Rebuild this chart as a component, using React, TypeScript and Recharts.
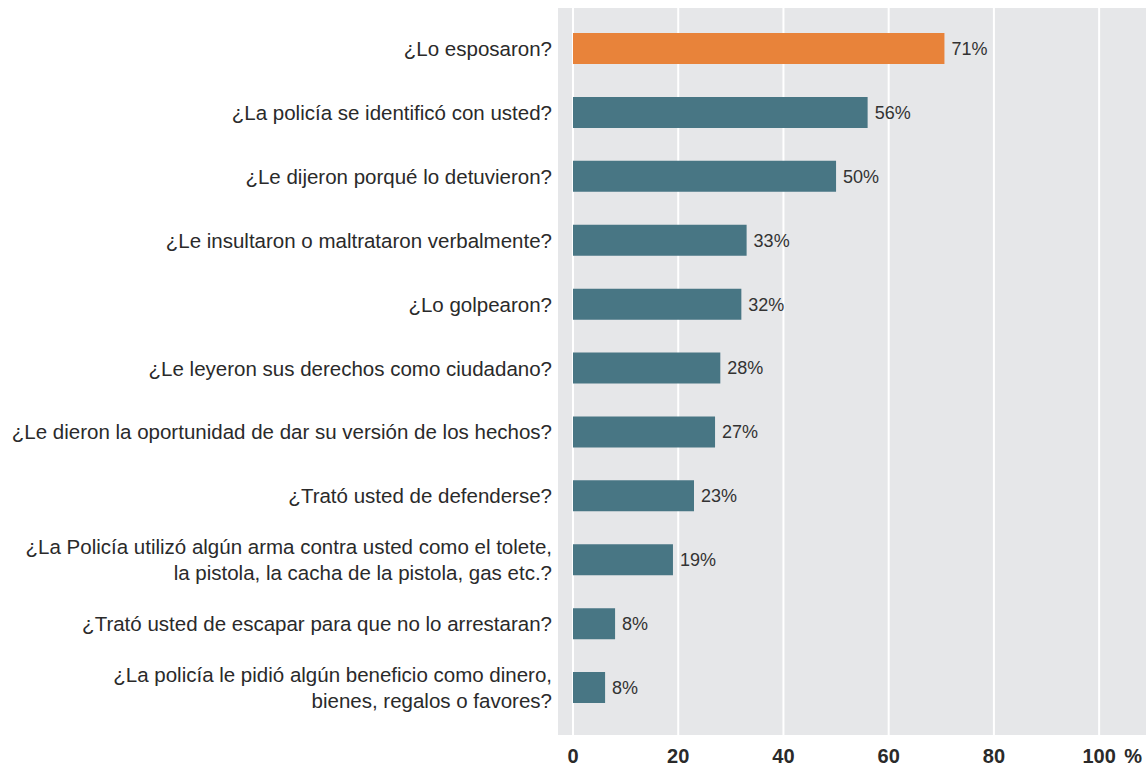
import { BarChart, Bar, XAxis, YAxis, CartesianGrid, Cell, LabelList } from 'recharts'

const questions = [
  '¿Lo esposaron?',
  '¿La policía se identificó con usted?',
  '¿Le dijeron porqué lo detuvieron?',
  '¿Le insultaron o maltrataron verbalmente?',
  '¿Lo golpearon?',
  '¿Le leyeron sus derechos como ciudadano?',
  '¿Le dieron la oportunidad de dar su versión de los hechos?',
  '¿Trató usted de defenderse?',
  '¿La Policía utilizó algún arma contra usted como el tolete,\nla pistola, la cacha de la pistola, gas etc.?',
  '¿Trató usted de escapar para que no lo arrestaran?',
  '¿La policía le pidió algún beneficio como dinero,\nbienes, regalos o favores?',
]

// bar lengths as drawn (%)
const values = [70.6, 56, 50, 33, 32, 28, 27, 23, 19, 8, 6.1]
// printed labels
const valueLabels = ['71%', '56%', '50%', '33%', '32%', '28%', '27%', '23%', '19%', '8%', '8%']

const xTicks = [0, 20, 40, 60, 80, 100]

const data = questions.map((q, i) => ({ name: q, value: values[i], label: valueLabels[i] }))

const ORANGE = '#E8833A'
const TEAL = '#487684'
const FONT = '"Liberation Sans", Arial, sans-serif'

const QuestionTick = ({ x, y, payload }: any) => {
  const lines = String(payload.value).split('\n')
  const lh = 26
  const start = -((lines.length - 1) * lh) / 2
  return (
    <text x={x} y={y} textAnchor="end" fill="#2a2a2a" fontSize={20.5} fontFamily={FONT}>
      {lines.map((l, i) => (
        <tspan key={i} x={x} dy={i === 0 ? start + 7 : lh}>{l}</tspan>
      ))}
    </text>
  )
}

const PctTick = ({ x, y, payload }: any) => (
  <g>
    <text x={x} y={y} dy="0.71em" textAnchor="middle" fill="#2a2a2a" fontSize={20} fontWeight="bold" fontFamily={FONT}>
      {payload.value}
    </text>
    {payload.value === 100 && (
      <text x={x + 34} y={y} dy="0.71em" textAnchor="middle" fill="#2a2a2a" fontSize={20} fontWeight="bold" fontFamily={FONT}>
        %
      </text>
    )}
  </g>
)

export default function App() {
  return (
    <div style={{ position: 'absolute', left: 0, top: 0, background: '#fff' }}>
      <BarChart
        width={1147}
        height={769}
        data={data}
        layout="vertical"
        margin={{ top: 8, right: 0, left: 0, bottom: 0 }}
        barCategoryGap={0}
      >
        <CartesianGrid horizontal={false} stroke="#ffffff" strokeWidth={2} fill="#E6E7E9" />
        <XAxis
          type="number"
          domain={[-3.04, 109.1]}
          allowDataOverflow
          ticks={xTicks}
          height={34}
          axisLine={false}
          tickLine={false}
          tickSize={0}
          tickMargin={14}
          tick={<PctTick />}
        />
        <YAxis
          type="category"
          dataKey="name"
          width={557}
          axisLine={false}
          tickLine={false}
          tickSize={0}
          tickMargin={5}
          interval={0}
          padding={{ top: 9, bottom: 15 }}
          tick={<QuestionTick />}
        />
        <Bar dataKey="value" barSize={31} isAnimationActive={false}>
          {data.map((_, i) => (
            <Cell key={i} fill={i === 0 ? ORANGE : TEAL} />
          ))}
          <LabelList dataKey="label" position="right" offset={7} fill="#333" fontSize={18} fontFamily={FONT} />
        </Bar>
      </BarChart>
    </div>
  )
}
